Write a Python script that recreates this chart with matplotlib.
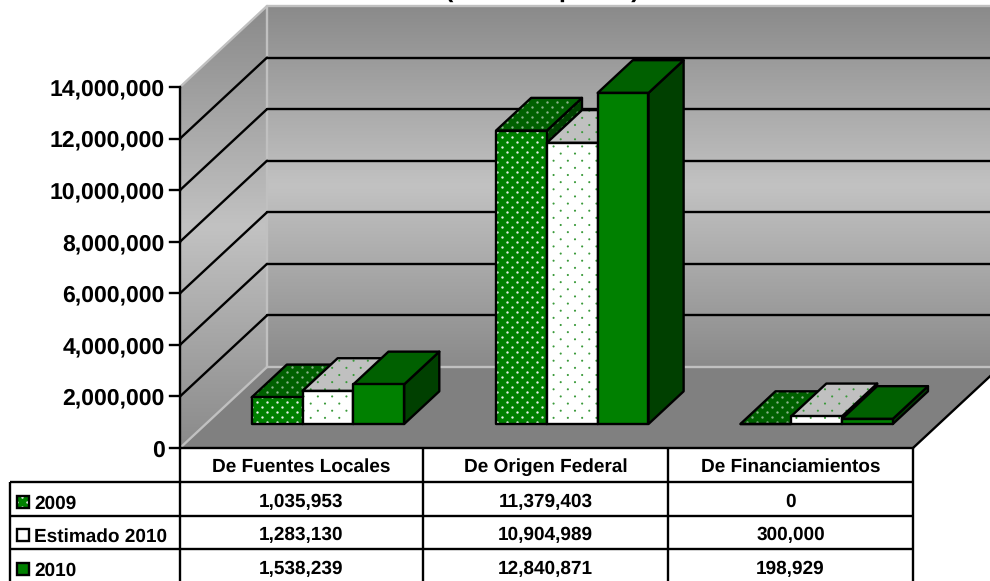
import numpy as np
import matplotlib
matplotlib.use("Agg")
import matplotlib.pyplot as plt
import matplotlib.hatch as mhatch
from matplotlib.path import Path
from matplotlib.patches import Polygon, Rectangle
from matplotlib.colors import LinearSegmentedColormap

plt.rcParams['font.family'] = ['Liberation Sans', 'DejaVu Sans']
plt.rcParams['hatch.linewidth'] = 0.0
plt.rcParams['text.hinting'] = 'no_hinting'
plt.rcParams['text.hinting_factor'] = 1

categories = ["De Fuentes Locales", "De Origen Federal", "De Financiamientos"]
series_names = ["2009", "Estimado 2010", "2010"]
values_2009 = [1035953, 11379403, 0]
values_est = [1283130, 10904989, 300000]
values_2010 = [1538239, 12840871, 198929]
y_ticks = [0, 2000000, 4000000, 6000000, 8000000, 10000000, 12000000, 14000000]
title = "(Miles de pesos)"


class OfficeDots(mhatch.HatchPatternBase):
    """Staggered dot fill: '.' is sparse, '..' is dense."""
    def __init__(self, hatch, density):
        n = hatch.count('.')
        self.cols, self.rows, self.r = {0: (0, 0, 0), 1: (7, 14, 0.0105), 2: (10, 20, 0.012)}[min(n, 2)]
        self.circle = Path.unit_circle()
        self.num_vertices = self.cols * self.rows * len(self.circle.vertices)

    def set_vertices_and_codes(self, vertices, codes):
        k = 0
        m = len(self.circle.vertices)
        for row in range(self.rows):
            off = 0.25 if row % 2 == 0 else 0.75
            for col in range(self.cols):
                c = np.array([(col + off) / self.cols, (row + 0.5) / self.rows])
                vertices[k:k+m] = self.circle.vertices * self.r + c
                codes[k:k+m] = self.circle.codes
                k += m


mhatch._hatch_types[:] = [t for t in mhatch._hatch_types if t is not mhatch.SmallFilledCircles] + [OfficeDots]

W, H = 990, 581
X0, X1, Y0, Y1 = 180, 913, 448, 87
DX, DY = 87, 81
fig = plt.figure(figsize=(W/100, H/100), dpi=100, facecolor='white')

ov = fig.add_axes([0, 0, 1, 1], zorder=3)
ov.set_xlim(0, W); ov.set_ylim(H, 0); ov.axis('off')
ov.patch.set_alpha(0)

ax = fig.add_axes([X0/W, 1-Y0/H, (X1-X0)/W, (Y0-Y1)/H], zorder=2)
ax.set_xlim(0, 3); ax.set_ylim(0, 14000000)
ax.axis('off')

zx = DX/((X1-X0)/3)
zy = DY/((Y0-Y1)/14000000)
def P(x, v, z):
    return (x + z*zx, v + z*zy)

TOP = 14000000
fig.text(542/W, 1+3.0/H, title, fontsize=18, fontweight='bold', ha='center', va='baseline', color='black', zorder=1)

cmap = LinearSegmentedColormap.from_list('w', ['#8a8a8a', '#c2c2c2', '#8a8a8a'])
grad = np.linspace(0, 1, 256).reshape(-1, 1)

floor = Polygon([P(0,0,0), P(3,0,0), P(3,0,1), P(0,0,1)], closed=True, fc='#808080', ec='none', clip_on=False, zorder=1)
ax.add_patch(floor)

bw = [P(0,0,1), P(3,0,1), P(3,TOP,1), P(0,TOP,1)]
im = ax.imshow(grad, cmap=cmap, aspect='auto', extent=(bw[0][0], bw[1][0], bw[0][1], bw[2][1]), origin='upper', zorder=1, vmin=0, vmax=1)
p = Polygon(bw, closed=True, fc='none', ec='none', clip_on=False); ax.add_patch(p)
im.set_clip_path(p)
im.set_clip_box(fig.bbox)

lw = [P(0,0,0), P(0,0,1), P(0,TOP,1), P(0,TOP,0)]
im2 = ax.imshow(grad, cmap=cmap, aspect='auto', extent=(0, zx, 0, TOP+zy), origin='upper', zorder=1, vmin=0, vmax=1)
p2 = Polygon(lw, closed=True, fc='none', ec='none', clip_on=False); ax.add_patch(p2)
im2.set_clip_path(p2)
im2.set_clip_box(fig.bbox)
ax.set_xlim(0, 3); ax.set_ylim(0, 14000000)

LW = 1.7
edge = '#c0c0c0'
def seg(a, b, c='k', lw=LW, z=2):
    ax.plot([a[0], b[0]], [a[1], b[1]], color=c, lw=lw, clip_on=False, zorder=z, solid_capstyle='round')

seg(P(0,TOP,0), P(0,TOP,1), edge)
seg(P(0,TOP,1), P(3,TOP,1), edge)
seg(P(0,0,1), P(0,TOP,1), edge)
seg(P(0,0,0), P(0,0,1), edge)
seg(P(0,0,1), P(3,0,1), edge)
for t in y_ticks[1:-1]:
    seg(P(0,t,0), P(0,t,1))
    seg(P(0,t,1), P(3,t,1))
seg(P(0,0,0), P(0,TOP,0))
seg(P(0,0,0), P(3,0,0))
seg(P(3,0,0), P(3,0,1))

for t in y_ticks:
    ax.plot([-10/((X1-X0)/3), 0], [t, t], color='k', lw=LW, clip_on=False, zorder=2)
    ax.annotate(f"{t:,}", (0, t), xytext=(-15*0.72, 0), textcoords='offset points', ha='right', va='center_baseline',
                fontsize=16.5, fontweight='bold', annotation_clip=False)

W_BAR = 0.208
Z0, Z1 = 0.296, 0.70
styles = [
    dict(front='#008000', top='#006000', side='#004000', hf='#e8f4e8', ht='#8ab48a', hs='#4a8a4a', hatch='..'),
    dict(front='#ffffff', top='#c0c0c0', side='#808080', hf='#3a9a3a', ht='#3a9a3a', hs='#3a7a3a', hatch='.'),
    dict(front='#008000', top='#006000', side='#004000', hf=None, ht=None, hs=None, hatch=None),
]
def face(pts, fc, hc, hatch, z):
    if hatch and hc:
        ax.add_patch(Polygon(pts, closed=True, fc=fc, ec=hc, lw=0, hatch=hatch, clip_on=False, zorder=z))
    else:
        ax.add_patch(Polygon(pts, closed=True, fc=fc, ec='none', clip_on=False, zorder=z))
    ax.add_patch(Polygon(pts, closed=True, fc='none', ec='k', lw=LW, joinstyle='round', clip_on=False, zorder=z+0.01))

all_vals = [values_2009, values_est, values_2010]
zc = 3
for c in range(3):
    for s, vals in enumerate(all_vals):
        v = vals[c]; st = styles[s]
        x0 = c + 0.5 + (s-1.5)*W_BAR; x1 = x0 + W_BAR
        face([P(x1,0,Z0), P(x1,0,Z1), P(x1,v,Z1), P(x1,v,Z0)], st['side'], st['hs'], st['hatch'], zc); zc += 0.1
        face([P(x0,v,Z0), P(x1,v,Z0), P(x1,v,Z1), P(x0,v,Z1)], st['top'], st['ht'], st['hatch'], zc); zc += 0.1
        face([P(x0,0,Z0), P(x1,0,Z0), P(x1,v,Z0), P(x0,v,Z0)], st['front'], st['hf'], st['hatch'], zc); zc += 0.1

col_x = [180, 423, 668, 913]
row_y = [448, 482, 516, 549]
def L(x0, y0, x1, y1):
    ov.plot([x0, x1], [y0, y1], color='k', lw=LW, clip_on=False, solid_capstyle='butt')
for y in row_y[1:]:
    L(10, y, 913, y)
L(10, 482, 10, 581)
L(180, 448, 180, 581)
for x in col_x[1:]:
    L(x, 448, x, 581)
FS = 13.6
for i, name in enumerate(categories):
    ov.text((col_x[i]+col_x[i+1])/2, 465, name, ha='center', va='center_baseline', fontsize=FS, fontweight='bold')
text_y = [500, 533, 567]
label_y = [502, 535, 569]
swatch = [('#008000', 'white', '..'), ('#ffffff', None, None), ('#008000', None, None)]
for r, vals in enumerate(all_vals):
    for i, v in enumerate(vals):
        ov.text((col_x[i]+col_x[i+1])/2, text_y[r], f"{v:,}", ha='center', va='center_baseline', fontsize=FS, fontweight='bold')
    ov.text(34, label_y[r], series_names[r], ha='left', va='center_baseline', fontsize=FS, fontweight='bold')
    fc, hc, h = swatch[r]
    ov.add_patch(Rectangle((16.5, label_y[r]-6.5), 12, 12, fc=fc, ec=hc if hc else 'none', lw=0, hatch=h))
    ov.add_patch(Rectangle((16.5, label_y[r]-6.5), 12, 12, fc='none', ec='k', lw=LW))

fig.savefig('out.png', dpi=100, facecolor='white')
